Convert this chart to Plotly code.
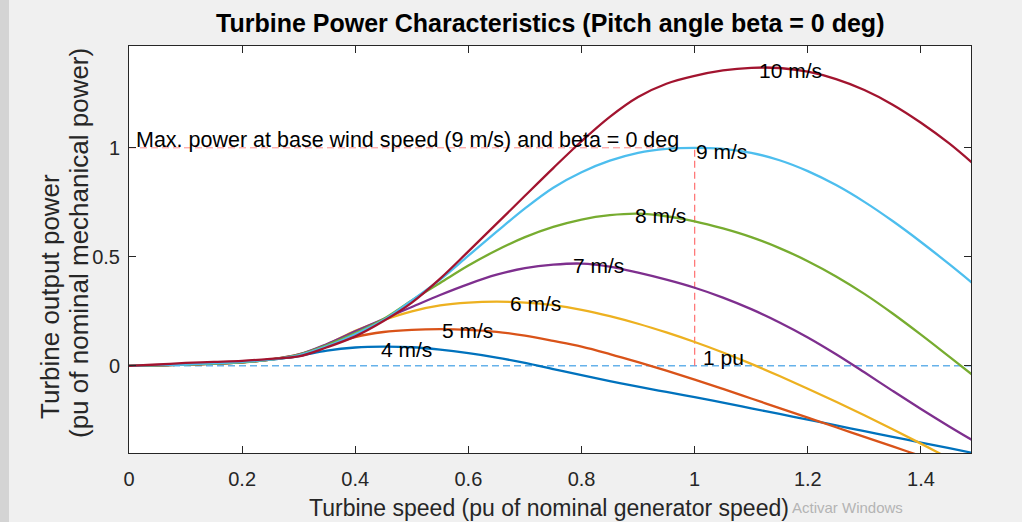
import plotly.graph_objects as go

# ---- data ----
speed = [0, 0.05, 0.1, 0.15, 0.2, 0.25, 0.3, 0.35, 0.4, 0.45, 0.5, 0.55, 0.6, 0.65,
         0.7, 0.75, 0.8, 0.85, 0.9, 0.95, 1.0, 1.05, 1.1, 1.15, 1.2, 1.25, 1.3, 1.35,
         1.4, 1.45, 1.5]

p_4 = [0, 0.002, 0.005, 0.01, 0.016, 0.028, 0.045, 0.07, 0.084, 0.088, 0.085, 0.074,
       0.058, 0.038, 0.013, -0.015, -0.043, -0.07, -0.096, -0.12, -0.144, -0.169,
       -0.195, -0.221, -0.247, -0.273, -0.3, -0.326, -0.352, -0.378, -0.404]
p_5 = [0, 0.002, 0.005, 0.01, 0.016, 0.028, 0.05, 0.092, 0.132, 0.155, 0.165, 0.168,
       0.165, 0.156, 0.138, 0.114, 0.088, 0.054, 0.017, -0.022, -0.063, -0.106,
       -0.15, -0.194, -0.238, -0.282, -0.326, -0.37, -0.414, -0.458, -0.502]
p_6 = [0, 0.002, 0.005, 0.01, 0.016, 0.029, 0.052, 0.098, 0.16, 0.21, 0.25, 0.277,
       0.29, 0.294, 0.29, 0.278, 0.257, 0.228, 0.193, 0.153, 0.109, 0.061, 0.009,
       -0.047, -0.105, -0.165, -0.227, -0.291, -0.357, -0.425, -0.495]
p_7 = [0, 0.002, 0.005, 0.01, 0.016, 0.029, 0.052, 0.1, 0.158, 0.215, 0.27, 0.325,
       0.375, 0.418, 0.448, 0.464, 0.469, 0.455, 0.427, 0.395, 0.358, 0.313, 0.26,
       0.199, 0.13, 0.053, -0.03, -0.115, -0.198, -0.278, -0.355]
p_8 = [0, 0.002, 0.005, 0.01, 0.016, 0.028, 0.05, 0.095, 0.15, 0.215, 0.30, 0.38,
       0.46, 0.53, 0.59, 0.637, 0.671, 0.691, 0.698, 0.686, 0.663, 0.63, 0.59, 0.54,
       0.48, 0.41, 0.33, 0.24, 0.143, 0.042, -0.06]
p_9 = [0, 0.003, 0.006, 0.012, 0.018, 0.028, 0.048, 0.09, 0.145, 0.21, 0.30, 0.395,
       0.505, 0.615, 0.722, 0.817, 0.888, 0.941, 0.977, 0.995, 1.0, 0.995, 0.977, 0.943,
       0.893, 0.829, 0.752, 0.664, 0.568, 0.466, 0.36]
p_10 = [0, 0.006, 0.013, 0.018, 0.023, 0.032, 0.043, 0.085, 0.135, 0.205, 0.29, 0.40,
        0.525, 0.652, 0.78, 0.907, 1.03, 1.142, 1.233, 1.294, 1.33, 1.355, 1.367,
        1.366, 1.349, 1.315, 1.265, 1.198, 1.115, 1.02, 0.91]

wind_labels = ["4 m/s", "5 m/s", "6 m/s", "7 m/s", "8 m/s", "9 m/s", "10 m/s"]
series = [p_4, p_5, p_6, p_7, p_8, p_9, p_10]
label_x = [0.443, 0.552, 0.671, 0.783, 0.892, 1.001, 1.112]
label_y = [0.076, 0.162, 0.286, 0.458, 0.691, 0.985, 1.355]

x_ticks = [0, 0.2, 0.4, 0.6, 0.8, 1.0, 1.2, 1.4]
x_tick_text = ["0", "0.2", "0.4", "0.6", "0.8", "1", "1.2", "1.4"]
y_ticks = [0, 0.5, 1]
y_tick_text = ["0", "0.5", "1"]

base_speed = [0, 1.0]
base_power = [1.0, 1.0]
zero_x = [0, 1.5]
zero_y = [0, 0]

colors = ["#0072BD", "#D95319", "#EDB120", "#7E2F8E", "#77AC30", "#4DBEEE", "#A2142F"]
FONT = "Liberation Sans, Arial, Helvetica, sans-serif"

fig = go.Figure()

# reference dashed lines
fig.add_trace(go.Scatter(x=zero_x, y=zero_y, mode="lines",
                         line=dict(color="#66B2EA", width=1.6, dash="7px,4px"),
                         hoverinfo="skip", showlegend=False))
fig.add_trace(go.Scatter(x=base_speed, y=base_power, mode="lines",
                         line=dict(color="#FF8C8C", width=1.0, dash="7px,4px"),
                         hoverinfo="skip", showlegend=False))
fig.add_trace(go.Scatter(x=[base_speed[1], base_speed[1]], y=[zero_y[0], base_power[1]],
                         mode="lines",
                         line=dict(color="#FF7070", width=1.2, dash="7px,4px"),
                         hoverinfo="skip", showlegend=False))

for name, vals, c in zip(wind_labels, series, colors):
    fig.add_trace(go.Scatter(x=speed, y=vals, mode="lines", name=name,
                             line=dict(color=c, width=2.3, shape="spline", smoothing=1.0),
                             showlegend=False))

annotations = []
for t, lx, ly in zip(wind_labels, label_x, label_y):
    annotations.append(dict(x=lx, y=ly, xref="x", yref="y", text=t, showarrow=False,
                            xanchor="left", yanchor="middle", borderpad=0,
                            font=dict(family=FONT, size=21, color="#000000")))
annotations.append(dict(x=1.013, y=0.037, xref="x", yref="y", text="1 pu", showarrow=False,
                        xanchor="left", yanchor="middle", borderpad=0,
                        font=dict(family=FONT, size=21, color="#000000")))
annotations.append(dict(x=0.011, y=1.035, xref="x", yref="y",
                        text="Max. power at base wind speed (9 m/s) and beta = 0 deg",
                        showarrow=False, xanchor="left", yanchor="middle", borderpad=0,
                        font=dict(family=FONT, size=21.5, color="#000000")))

L, R, T, B = 129, 51, 46, 69
W, H = 1022, 522
pw, ph = W - L - R, H - T - B


def px(xp):
    return (xp - L) / pw


def py(yp):
    return (H - B - yp) / ph


annotations.append(dict(x=px(550), y=py(23), xref="paper", yref="paper",
                        text="<b>Turbine Power Characteristics (Pitch angle beta = 0 deg)</b>",
                        showarrow=False, xanchor="center", yanchor="middle",
                        font=dict(family=FONT, size=25, color="#000000")))
annotations.append(dict(x=px(549), y=py(508), xref="paper", yref="paper",
                        text="Turbine speed (pu of nominal generator speed)",
                        showarrow=False, xanchor="center", yanchor="middle",
                        font=dict(family=FONT, size=23, color="#262626")))
annotations.append(dict(x=px(50), y=py(297), xref="paper", yref="paper",
                        text="Turbine output power", textangle=-90,
                        showarrow=False, xanchor="center", yanchor="middle",
                        font=dict(family=FONT, size=26, color="#262626")))
annotations.append(dict(x=px(79), y=py(243), xref="paper", yref="paper",
                        text="(pu of nominal mechanical power)", textangle=-90,
                        showarrow=False, xanchor="center", yanchor="middle",
                        font=dict(family=FONT, size=26, color="#262626")))
annotations.append(dict(x=px(847), y=py(507), xref="paper", yref="paper",
                        text="Activar Windows",
                        showarrow=False, xanchor="center", yanchor="middle",
                        font=dict(family=FONT, size=15, color="#B4B4B4")))

fig.update_layout(
    width=W, height=H, autosize=False,
    margin=dict(l=L, r=R, t=T, b=B),
    paper_bgcolor="#F0F0F0", plot_bgcolor="#FFFFFF",
    annotations=annotations,
    shapes=[dict(type="rect", xref="paper", yref="paper", x0=px(0), x1=px(9),
                 y0=py(H), y1=py(0), fillcolor="#D4D4D4", line=dict(width=0),
                 layer="below")],
    font=dict(family=FONT, color="#262626"),
)
fig.update_xaxes(range=[0, 1.4885], tickvals=x_ticks, ticktext=x_tick_text,
                 ticks="inside", ticklen=7, tickcolor="#262626", tickwidth=1,
                 showline=True, linecolor="#262626", linewidth=1, mirror="ticks",
                 showgrid=False, zeroline=False, ticklabelstandoff=8,
                 tickfont=dict(family=FONT, size=20, color="#262626"))
fig.update_yaxes(range=[-0.4, 1.467], tickvals=y_ticks, ticktext=y_tick_text,
                 ticks="inside", ticklen=7, tickcolor="#262626", tickwidth=1,
                 showline=True, linecolor="#262626", linewidth=1, mirror="ticks",
                 showgrid=False, zeroline=False, ticklabelstandoff=4,
                 tickfont=dict(family=FONT, size=20, color="#262626"))

fig.write_html("out.html",
               config={"displayModeBar": False},
               post_script="document.body.style.margin='0';"
                           "document.body.style.background='#F0F0F0';")
